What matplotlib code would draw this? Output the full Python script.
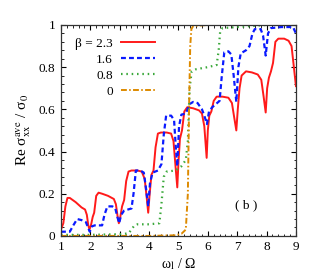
import matplotlib
matplotlib.use('Agg')
import matplotlib.pyplot as plt
from matplotlib.ticker import MultipleLocator

plt.rcParams['font.family'] = ['Liberation Serif', 'DejaVu Serif']
plt.rcParams['mathtext.fontset'] = 'stix'

# beta = 2.3
red_x = [1.0, 1.08, 1.15, 1.22, 1.3, 1.5, 1.7, 1.82, 1.88, 1.93, 1.97, 2.02, 2.08, 2.13,
         2.2, 2.28, 2.4, 2.6, 2.8, 2.87, 2.93, 2.97, 3.02, 3.08, 3.15, 3.22, 3.3, 3.4,
         3.6, 3.75, 3.85, 3.92, 3.97, 4.02, 4.08, 4.15, 4.22, 4.3, 4.4, 4.6, 4.75, 4.83,
         4.9, 4.96, 5.0, 5.05, 5.12, 5.2, 5.3, 5.5, 5.7, 5.8, 5.88, 5.96, 6.0, 6.05, 6.12,
         6.2, 6.3, 6.5, 6.7, 6.82, 6.9, 6.97, 7.02, 7.08, 7.15, 7.3, 7.5, 7.7, 7.82, 7.9,
         7.97, 8.02, 8.08, 8.15, 8.22, 8.3, 8.4, 8.6, 8.75, 8.85, 8.93, 9.0]
red_y = [0.03, 0.06, 0.14, 0.18, 0.18, 0.16, 0.135, 0.125, 0.10, 0.05, 0.03, 0.05, 0.09, 0.11,
         0.19, 0.205, 0.20, 0.19, 0.175, 0.15, 0.09, 0.06, 0.09, 0.14, 0.17, 0.26, 0.305, 0.31,
         0.31, 0.305, 0.27, 0.18, 0.11, 0.20, 0.29, 0.31, 0.42, 0.485, 0.49, 0.49, 0.485, 0.45,
         0.33, 0.23, 0.35, 0.46, 0.50, 0.59, 0.61, 0.605, 0.595, 0.58, 0.52, 0.37, 0.50, 0.57, 0.59,
         0.64, 0.66, 0.66, 0.655, 0.63, 0.56, 0.50, 0.60, 0.70, 0.76, 0.78, 0.775, 0.765, 0.74, 0.66,
         0.585, 0.70, 0.75, 0.78, 0.82, 0.92, 0.935, 0.935, 0.925, 0.90, 0.80, 0.71]

# beta = 1.6
blue_x = [1.0, 1.3, 1.42, 1.55, 1.7, 1.85, 1.92, 1.98, 2.05, 2.15, 2.4, 2.48, 2.58, 2.75, 2.85,
          2.92, 2.98, 3.05, 3.15, 3.4, 3.47, 3.55, 3.7, 3.82, 3.9, 3.97, 4.03, 4.12, 4.3, 4.42,
          4.5, 4.58, 4.75, 4.85, 4.91, 4.96, 5.02, 5.1, 5.25, 5.38, 5.5, 5.65, 5.8, 5.88, 5.97,
          6.04, 6.15, 6.4, 6.47, 6.56, 6.7, 6.8, 6.88, 6.97, 7.04, 7.12, 7.3, 7.42, 7.52, 7.6,
          7.8, 7.88, 7.97, 8.05, 8.15, 8.5, 8.9, 9.0]
blue_y = [0.02, 0.02, 0.05, 0.08, 0.075, 0.065, 0.04, 0.02, 0.045, 0.05, 0.05, 0.10, 0.14, 0.14, 0.13,
          0.09, 0.06, 0.10, 0.12, 0.13, 0.20, 0.31, 0.31, 0.30, 0.22, 0.14, 0.25, 0.30, 0.31, 0.34,
          0.48, 0.57, 0.57, 0.55, 0.42, 0.33, 0.52, 0.575, 0.58, 0.625, 0.635, 0.63, 0.60, 0.57, 0.53,
          0.59, 0.61, 0.64, 0.75, 0.87, 0.875, 0.86, 0.76, 0.635, 0.80, 0.865, 0.88, 0.90, 0.96, 0.98,
          0.98, 0.95, 0.855, 0.96, 0.985, 0.99, 0.99, 0.96]

# beta = 0.8
green_x = [1.0, 2.0, 3.0, 3.3, 3.4, 3.5, 3.6, 4.0, 4.35, 4.42, 4.5, 4.6, 4.9, 5.1, 5.25, 5.32,
           5.38, 5.45, 5.6, 6.0, 6.3, 6.37, 6.42, 6.5, 7.0, 8.0, 9.0]
green_y = [0.005, 0.005, 0.008, 0.012, 0.03, 0.05, 0.055, 0.055, 0.06, 0.15, 0.28, 0.305, 0.31, 0.33, 0.36, 0.45,
           0.70, 0.78, 0.79, 0.80, 0.81, 0.88, 0.97, 0.985, 0.99, 1.0, 1.0]

# beta = 0
orange_x = [1.0, 4.0, 4.9, 5.1, 5.25, 5.32, 5.36, 5.4, 5.44, 5.5, 6.0, 9.0]
orange_y = [0.0, 0.0, 0.003, 0.01, 0.03, 0.2, 0.6, 0.9, 0.98, 0.995, 1.0, 1.0]

labels = ['β = 2.3', '1.6', '0.8', '0']

fig = plt.figure(figsize=(3.27, 2.74), dpi=100)
ax = fig.add_axes([0.1865, 0.139, 0.7185, 0.770])

ax.plot(red_x, red_y, color='#ff1a1a', lw=1.4, label=labels[0])
ax.plot(blue_x, blue_y, color='#0a1aff', lw=1.6, ls=(0, (2.2, 1.4)), label=labels[1])
ax.plot(green_x, green_y, color='#3aa83a', lw=1.6, ls=(0, (0.7, 1.7)), label=labels[2])
ax.plot(orange_x, orange_y, color='#dd8a00', lw=1.4, ls=(0, (3, 1.2, 0.8, 1.2)), label=labels[3])

ax.set_xlim(1, 9)
ax.set_ylim(0, 1)
ax.xaxis.set_major_locator(MultipleLocator(1))
ax.xaxis.set_minor_locator(MultipleLocator(0.2))
ax.yaxis.set_minor_locator(MultipleLocator(0.04))
ax.set_yticks([0, 0.2, 0.4, 0.6, 0.8, 1.0])
ax.set_yticklabels(['0', '0.2', '0.4', '0.6', '0.8', '1'])
ax.tick_params(which='both', direction='in', top=True, right=True, labelsize=9.5, pad=4)
ax.tick_params(which='major', length=3.5)
ax.tick_params(which='minor', length=1.8)
for s in ax.spines.values():
    s.set_linewidth(0.9)
    s.set_color('#333333')

ax.set_xlabel(r'ω$_\mathrm{l}$ / Ω', fontsize=10, labelpad=2)
ax.set_ylabel(r'Re σ$_\mathrm{xx}^\mathrm{ave}$ / σ$_0$', fontsize=11, labelpad=4)

ax.text(7.32, 0.147, '( b )', fontsize=9.5, ha='center', va='center')

ax.legend(loc='upper right', bbox_to_anchor=(0.40, 0.94), frameon=False, markerfirst=False,
          fontsize=9.5, handlelength=2.6, handletextpad=0.6, labelspacing=0.28, borderpad=0,
          borderaxespad=0)

fig.savefig('out.png', dpi=100)
